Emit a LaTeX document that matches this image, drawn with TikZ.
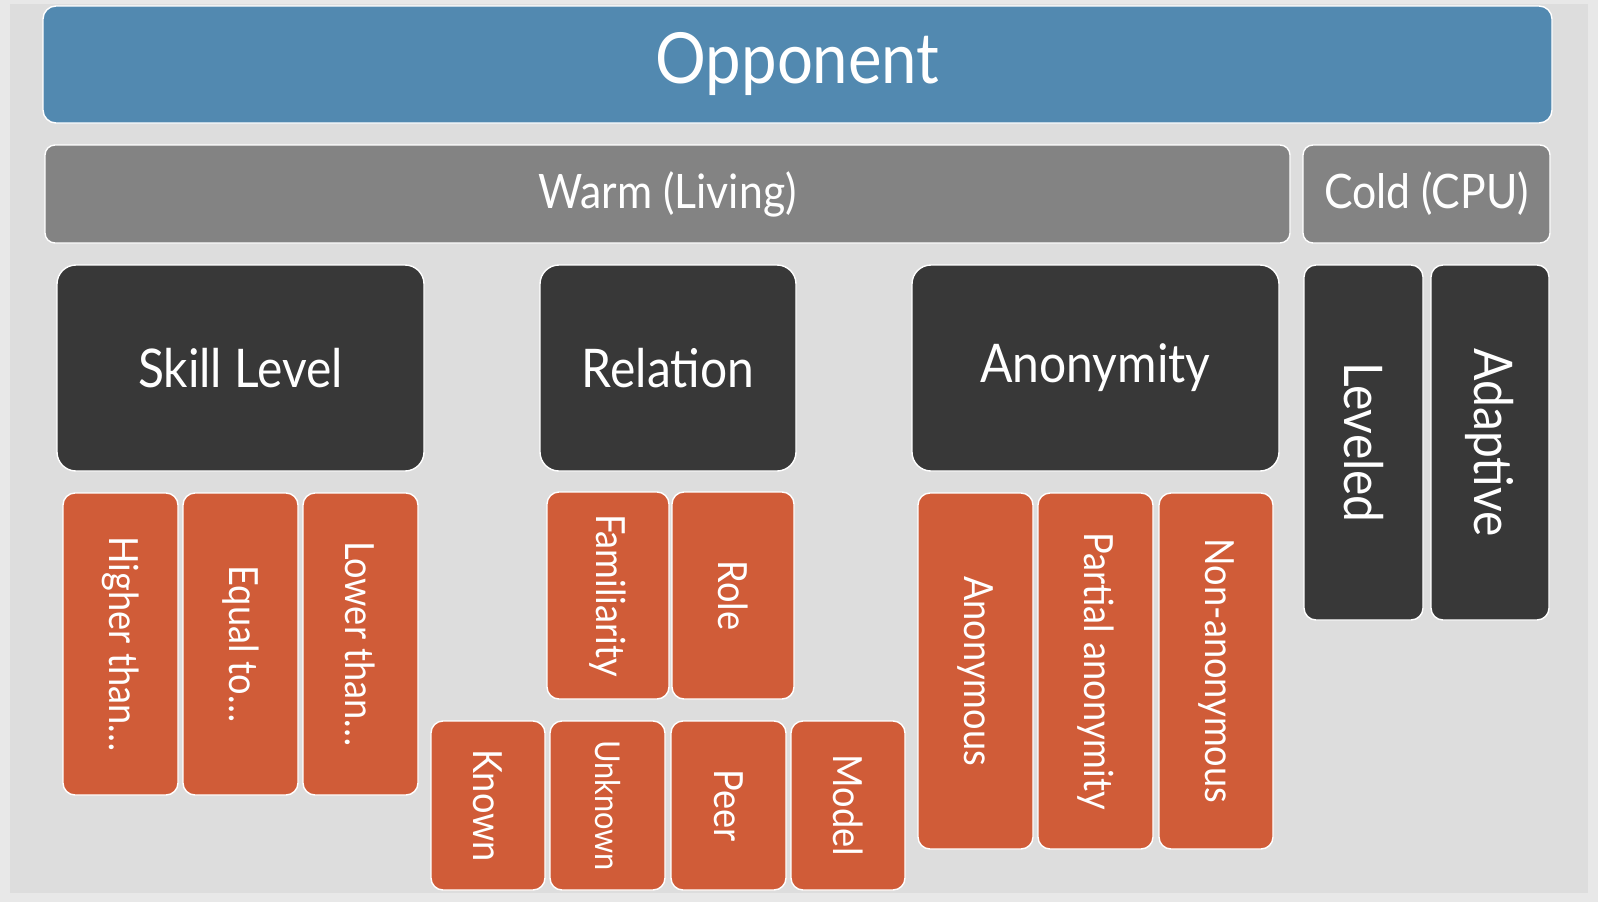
\documentclass[tikz,border=0pt]{standalone}
\usepackage{fontspec}
\setmainfont{Lato}[FakeStretch=0.9]
\definecolor{outerbg}{HTML}{E8E8E8}
\definecolor{panelbg}{HTML}{DDDDDD}
\definecolor{oppblue}{HTML}{5289B0}
\definecolor{midgray}{HTML}{838383}
\definecolor{darkbox}{HTML}{383838}
\definecolor{orangebox}{HTML}{D05C38}
\tikzset{
  base/.style={draw=white, line width=1.4pt, inner sep=0pt, text=white, align=center},
  oppbox/.style={base, fill=oppblue, rounded corners=13pt, font=\fontsize{70.5}{70.5}\selectfont},
  graybox/.style={base, fill=midgray, rounded corners=10pt, font=\fontsize{47.5}{47.5}\selectfont},
  darkcat/.style={base, fill=darkbox, rounded corners=19pt, font=\fontsize{53.3}{53.3}\selectfont},
  darkvert/.style={base, fill=darkbox, rounded corners=12pt, rotate=-90, font=\fontsize{53.3}{53.3}\selectfont},
  leaf/.style={base, fill=orangebox, rounded corners=12pt, rotate=-90, font=\fontsize{40.2}{40.2}\selectfont},
  smallleaf/.style={leaf, font=\fontsize{34.2}{34.2}\selectfont}
}
\begin{document}
\begin{tikzpicture}[x=1pt,y=-1pt]
\fill[outerbg] (0,0) rectangle (1598,902);
\fill[panelbg] (10,4) rectangle (1588,893);
\useasboundingbox (0,0) rectangle (1598,902);
% top level
\node[oppbox, minimum width=1509pt, minimum height=117pt] (opp) at (797.5,64.5) {Opponent};
\node[graybox, minimum width=1245pt, minimum height=98pt] (warm) at (667.5,194) {Warm (Living)};
\node[graybox, minimum width=247pt, minimum height=98pt] (cold) at (1426.5,194) {Cold (CPU)};
% categories
\node[darkcat, minimum width=367pt, minimum height=206pt] (skill) at (240.5,368) {Skill Level};
\node[darkcat, minimum width=256pt, minimum height=206pt] (relation) at (668,368) {Relation};
\node[darkcat, minimum width=367pt, minimum height=206pt] (anonymity) at (1095.5,368) {Anonymity};
\node[darkvert, minimum width=355pt, minimum height=119pt] (leveled) at (1363.5,442.5) {Leveled};
\node[darkvert, minimum width=355pt, minimum height=118pt] (adaptive) at (1490,442.5) {Adaptive};
% skill leaves
\node[leaf, minimum width=302pt, minimum height=115pt] (higher) at (120.5,644) {Higher than…};
\node[leaf, minimum width=302pt, minimum height=115pt] (equal) at (240.5,644) {Equal to…};
\node[leaf, minimum width=302pt, minimum height=115pt] (lower) at (360.5,644) {Lower than…};
% relation leaves
\node[leaf, minimum width=207pt, minimum height=122pt] (familiarity) at (608,595.5) {Familiarity};
\node[leaf, minimum width=207pt, minimum height=122pt] (role) at (733,595.5) {Role};
\node[leaf, minimum width=169pt, minimum height=114pt] (known) at (488,805.5) {Known};
\node[smallleaf, minimum width=169pt, minimum height=115pt] (unknown) at (607.5,805.5) {Unknown};
\node[leaf, minimum width=169pt, minimum height=115pt] (peer) at (728.5,805.5) {Peer};
\node[leaf, minimum width=169pt, minimum height=114pt] (model) at (848,805.5) {Model};
% anonymity leaves
\node[leaf, minimum width=356pt, minimum height=115pt] (anonymous) at (975.5,671) {Anonymous};
\node[leaf, minimum width=356pt, minimum height=115pt] (partial) at (1095.5,671) {Partial anonymity};
\node[leaf, minimum width=356pt, minimum height=114pt] (nonanon) at (1216,671) {Non-anonymous};
\end{tikzpicture}
\end{document}
